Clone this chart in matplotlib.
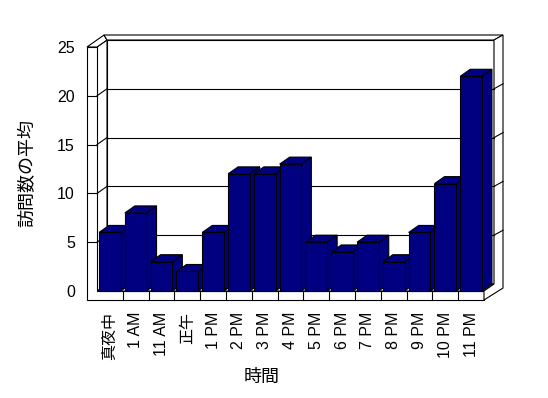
"""Average visits per hour, drawn as an Excel-style 3D column chart."""

import matplotlib

matplotlib.use("Agg")
import matplotlib.pyplot as plt
from matplotlib.patches import Polygon
from matplotlib.transforms import IdentityTransform

HOURS = ["真夜中", "1 AM", "11 AM", "正午", "1 PM", "2 PM", "3 PM", "4 PM",
         "5 PM", "6 PM", "7 PM", "8 PM", "9 PM", "10 PM", "11 PM"]
VISITS = [6, 8, 3, 2, 6, 12, 12, 13, 5, 4, 5, 3, 6, 11, 22]
Y_TICKS = [0, 5, 10, 15, 20, 25]

NAVY = "#000080"
W, H, DPI = 548, 398, 100
DEPTH = (10, 7)   # floor / bar depth in px (right, up)
OUTER = (19, 12)  # outer back edge of the wall slabs
SLAB = 10         # wall and floor thickness in px
LW = 0.8

plt.rcParams["font.family"] = ["Liberation Sans", "Noto Sans CJK JP"]

fig = plt.figure(figsize=(W / DPI, H / DPI), dpi=DPI)
ax = fig.add_axes([97 / W, 1 - 291 / H, (484 - 97) / W, (291 - 47) / H])
n, top = len(HOURS), Y_TICKS[-1]
ax.set_xlim(0, n)
ax.set_ylim(0, top)
ax.patch.set_visible(False)
for s in ax.spines.values():
    s.set_visible(False)


def px(x, y, dx=0, dy=0):
    X, Y = ax.transData.transform((x, y))
    return (X + dx, Y + dy)


def face(pts, color="white", z=1):
    ax.add_patch(Polygon(pts, closed=True, facecolor=color, edgecolor="black", lw=LW,
                         transform=IdentityTransform(), clip_on=False, zorder=z))


def seg(a, b):
    ax.plot([a[0], b[0]], [a[1], b[1]], color="black", lw=LW,
            transform=IdentityTransform(), clip_on=False, zorder=1.5)


# walls and floor
face([px(0, 0, *DEPTH), px(n, 0, *DEPTH), px(n, top, *DEPTH), px(0, top, *DEPTH)])
face([px(0, 0), px(n, 0), px(n, 0, *DEPTH), px(0, 0, *DEPTH)])
face([px(0, 0), px(0, 0, *DEPTH), px(0, top, *DEPTH), px(0, top)])
face([px(0, top, -SLAB, 0), px(0, top), px(0, 0), px(n, 0), px(n, 0, 0, -9), px(0, 0, -SLAB, -9)])
face([px(0, top, -SLAB, 0), px(0, top), px(0, top, *DEPTH), px(0, top, 7, OUTER[1])])
face([px(0, top, 7, OUTER[1]), px(n, top, *OUTER), px(n, top, *DEPTH), px(0, top, *DEPTH)])
face([px(n, top, *DEPTH), px(n, top, *OUTER), px(n, 0, OUTER[0], 3), px(n, 0, 0, -9),
      px(n, 0), px(n, 0, *DEPTH)])

for y in Y_TICKS[1:-1]:
    seg(px(0, y, -SLAB, 0), px(0, y))
    seg(px(0, y), px(0, y, *DEPTH))
    seg(px(0, y, *DEPTH), px(n, y, *DEPTH))
    seg(px(n, y, *DEPTH), px(n, y, *OUTER))
for i in range(1, n):
    seg(px(i, 0), px(i, 0, 0, -9))

# bars: front face through ax.bar, top and side as polygons
bars = ax.bar([i + 0.08 for i in range(n)], VISITS, width=0.84, align="edge",
              color=NAVY, edgecolor="black", lw=LW)
for i, (b, v) in enumerate(zip(bars, VISITS)):
    x0, x1 = i + 0.08, i + 0.92
    face([px(x1, 0), px(x1, v), px(x1, v, *DEPTH), px(x1, 0, *DEPTH)], NAVY, 3 + 2 * i)
    face([px(x0, v), px(x1, v), px(x1, v, *DEPTH), px(x0, v, *DEPTH)], NAVY, 3 + 2 * i)
    b.set_zorder(4 + 2 * i)
    b.set_clip_on(False)

ax.set_xticks([i + 0.5 for i in range(n)], HOURS, rotation=90, fontsize=11.5)
ax.set_yticks(Y_TICKS, [str(t) for t in Y_TICKS], fontsize=11.5)
ax.tick_params(axis="x", length=0, pad=15)
ax.tick_params(axis="y", length=0, pad=16)

fig.text(28 / W, 1 - 173 / H, "訪問数の平均", rotation=90, ha="center", va="center", fontsize=13)
fig.text(262 / W, 1 - 377 / H, "時間", ha="center", va="center", fontsize=13)

fig.savefig("out.png", dpi=DPI)
